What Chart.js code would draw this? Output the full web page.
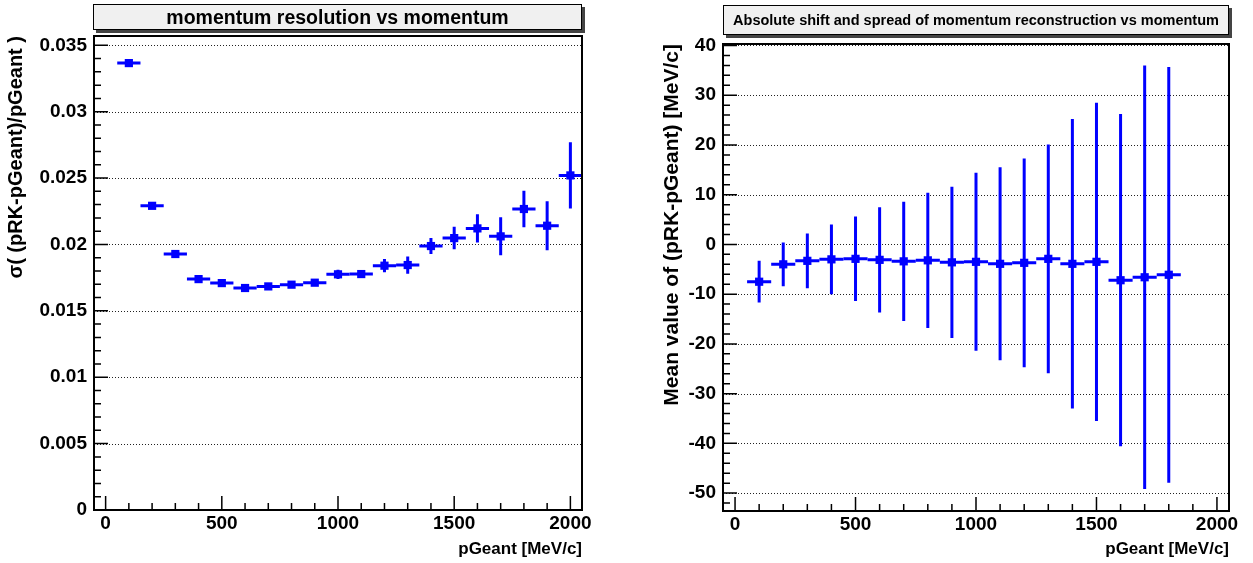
<!DOCTYPE html>
<html>
<head>
<meta charset="utf-8">
<script src="https://cdn.jsdelivr.net/npm/chart.js@4.4.0/dist/chart.umd.min.js"></script>
<style>
    body { margin: 0; background: #fff; }
    #wrap { position: relative; width: 1253px; height: 563px; overflow: hidden; }
    canvas { position: absolute; top: 0; }
    .titlebox {
        position: absolute;
        box-sizing: border-box;
        background: #f0f0f0;
        border: 1px solid #000;
        box-shadow: 3px 3px 0 #444;
        font-family: 'Liberation Sans', Arial, sans-serif;
        font-weight: bold;
        color: #000;
        text-align: center;
        white-space: nowrap;
    }
</style>
</head>
<body>
<div id="wrap">
    <canvas id="resChart" width="626" height="563" style="left:0"></canvas>
    <canvas id="shiftChart" width="627" height="563" style="left:626px"></canvas>
    <div class="titlebox" style="left:93px; top:4px; width:489px; height:26px; font-size:19.5px; line-height:24px;">momentum resolution vs momentum</div>
    <div class="titlebox" style="left:723px; top:5px; width:506px; height:30px; font-size:14.5px; line-height:28px;">Absolute shift and spread of momentum reconstruction vs momentum</div>
</div>
<script>
// bin centres and half width (100 MeV/c bins)
const pGeant = [100, 200, 300, 400, 500, 600, 700, 800, 900, 1000,
    1100, 1200, 1300, 1400, 1500, 1600, 1700, 1800, 1900, 2000];
const binHalfWidth = 50;

// sigma((pRK-pGeant)/pGeant) per bin
const sigmaRel = [0.03366, 0.02291, 0.01928, 0.01739, 0.01709, 0.01672, 0.01684, 0.01697, 0.01712, 0.01775,
    0.01777, 0.0184, 0.01845, 0.01988, 0.02048, 0.02121, 0.02061, 0.02267, 0.02141, 0.0252];
const sigmaRelErr = [0.00005, 0.00005, 0.00005, 0.00007, 0.00008, 0.00008, 0.0001, 0.0001, 0.0001, 0.00035,
    0.0001, 0.0005, 0.00065, 0.0006, 0.00085, 0.00107, 0.00143, 0.00138, 0.00184, 0.0025];

// mean of pRK-pGeant and its spread (only up to 1800 MeV/c)
const pGeantShift = pGeant.slice(0, 18);
const meanShift = [-7.5, -4.0, -3.3, -3.0, -2.9, -3.1, -3.4, -3.2, -3.6, -3.5,
    -3.9, -3.7, -2.9, -3.9, -3.5, -7.2, -6.6, -6.1];
const shiftSpread = [4.2, 4.4, 5.5, 7.0, 8.5, 10.6, 12.0, 13.6, 15.2, 17.9,
    19.4, 21.0, 23.0, 29.1, 32.0, 33.4, 42.6, 41.8];

// axis ticks
const xTicks = [0, 500, 1000, 1500, 2000];
const resTicks = [0, 0.005, 0.01, 0.015, 0.02, 0.025, 0.03, 0.035];
const shiftTicks = [-50, -40, -30, -20, -10, 0, 10, 20, 30, 40];

const labelFont = "'Liberation Sans', Arial, sans-serif";

function minorValues(min, max, step) {
    const out = [];
    for (let k = Math.ceil(min / step - 1e-9); k * step <= max + 1e-9; k++) out.push(k * step);
    return out;
}

// ROOT-like pad: dotted grid, error crosses, frame with ticks inside
const rootStyle = {
    id: 'rootStyle',
    beforeDatasetsDraw(chart, args, opts) {
        const {ctx, chartArea: a, scales: {x, y}} = chart;
        ctx.save();
        ctx.strokeStyle = '#222';
        ctx.lineWidth = 1;
        ctx.setLineDash([1, 2]);
        opts.yMajor.forEach(v => {
            const py = Math.round(y.getPixelForValue(v)) + 0.5;
            ctx.beginPath();
            ctx.moveTo(a.left, py);
            ctx.lineTo(a.right, py);
            ctx.stroke();
        });
        ctx.setLineDash([]);

        ctx.beginPath();
        ctx.rect(a.left, a.top, a.right - a.left, a.bottom - a.top);
        ctx.clip();
        ctx.strokeStyle = '#0000ff';
        ctx.lineWidth = 3;
        opts.xs.forEach((xv, i) => {
            const px = x.getPixelForValue(xv);
            const py = y.getPixelForValue(opts.ys[i]);
            ctx.beginPath();
            ctx.moveTo(x.getPixelForValue(xv - opts.halfWidth), py);
            ctx.lineTo(x.getPixelForValue(xv + opts.halfWidth), py);
            ctx.moveTo(px, y.getPixelForValue(opts.ys[i] - opts.errs[i]));
            ctx.lineTo(px, y.getPixelForValue(opts.ys[i] + opts.errs[i]));
            ctx.stroke();
        });
        ctx.restore();
    },
    afterDatasetsDraw(chart, args, opts) {
        const {ctx, chartArea: a, scales: {x, y}} = chart;
        ctx.save();
        ctx.strokeStyle = '#000';
        ctx.lineWidth = 1.5;
        ctx.beginPath();
        opts.yMajor.forEach(v => {
            const py = y.getPixelForValue(v);
            ctx.moveTo(a.left, py);
            ctx.lineTo(a.left + 14, py);
        });
        minorValues(y.min, y.max, opts.yMinor).forEach(v => {
            const py = y.getPixelForValue(v);
            ctx.moveTo(a.left, py);
            ctx.lineTo(a.left + 7, py);
        });
        xTicks.forEach(v => {
            const px = x.getPixelForValue(v);
            ctx.moveTo(px, a.bottom);
            ctx.lineTo(px, a.bottom - 14);
        });
        minorValues(x.min, x.max, 100).forEach(v => {
            const px = x.getPixelForValue(v);
            ctx.moveTo(px, a.bottom);
            ctx.lineTo(px, a.bottom - 7);
        });
        ctx.stroke();
        ctx.lineWidth = 2;
        ctx.strokeRect(a.left, a.top, a.right - a.left, a.bottom - a.top);
        ctx.restore();
    }
};

function makePad(id, cfg) {
    return new Chart(document.getElementById(id), {
        type: 'scatter',
        data: {
            datasets: [{
                data: cfg.xs.map((xv, i) => ({x: xv, y: cfg.ys[i]})),
                pointStyle: 'rect',
                pointRadius: 5.8,
                pointHoverRadius: 5.8,
                backgroundColor: '#0000ff',
                borderWidth: 0,
            }]
        },
        options: {
            responsive: false,
            animation: false,
            events: [],
            layout: {padding: {left: cfg.padLeft, top: cfg.top, right: cfg.right, bottom: 0}},
            plugins: {
                legend: {display: false},
                tooltip: {enabled: false},
                rootStyle: {
                    xs: cfg.xs, ys: cfg.ys, errs: cfg.errs, halfWidth: binHalfWidth,
                    yMajor: cfg.yTicks, yMinor: cfg.yMinor,
                },
            },
            scales: {
                x: {
                    type: 'linear',
                    min: -50,
                    max: 2050,
                    grid: {display: false, drawTicks: false},
                    border: {display: false},
                    afterBuildTicks: s => { s.ticks = xTicks.map(v => ({value: v})); },
                    afterFit: s => { s.height = cfg.xHeight; },
                    ticks: {
                        color: '#000', padding: 2, maxRotation: 0, autoSkip: false,
                        font: {family: labelFont, size: 19, weight: 'bold'},
                        callback: v => String(v),
                    },
                    title: {
                        display: true, text: 'pGeant [MeV/c]', align: 'end', color: '#000',
                        font: {family: labelFont, size: 17, weight: 'bold'},
                        padding: {top: 0, bottom: 3},
                    },
                },
                y: {
                    type: 'linear',
                    min: cfg.yMin,
                    max: cfg.yMax,
                    grid: {display: false, drawTicks: false},
                    border: {display: false},
                    afterBuildTicks: s => { s.ticks = cfg.yTicks.map(v => ({value: v})); },
                    afterFit: s => { s.width = cfg.yWidth; },
                    ticks: {
                        color: '#000', padding: 7, autoSkip: false,
                        font: {family: labelFont, size: 19, weight: 'bold'},
                        callback: v => String(Number(v.toFixed(3))),
                    },
                    title: {
                        display: true, text: cfg.yTitle, align: 'end', color: '#000',
                        font: {family: labelFont, size: cfg.yTitleSize, weight: 'bold'},
                        padding: {top: cfg.yTitlePad, bottom: 0},
                    },
                },
            },
        },
        plugins: [rootStyle],
    });
}

makePad('resChart', {
    xs: pGeant, ys: sigmaRel, errs: sigmaRelErr,
    yMin: 0, yMax: 0.0357, yTicks: resTicks, yMinor: 0.001,
    yTitle: 'σ( (pRK-pGeant)/pGeant )', yTitleSize: 20, yTitlePad: 4,
    padLeft: 0, yWidth: 94, top: 36, right: 44, xHeight: 53,
});

makePad('shiftChart', {
    xs: pGeantShift, ys: meanShift, errs: shiftSpread,
    yMin: -53.6, yMax: 40.3, yTicks: shiftTicks, yMinor: 2,
    yTitle: 'Mean value of (pRK-pGeant) [MeV/c]', yTitleSize: 21, yTitlePad: 4,
    padLeft: 30, yWidth: 67, top: 44, right: 24, xHeight: 52,
});
</script>
</body>
</html>
